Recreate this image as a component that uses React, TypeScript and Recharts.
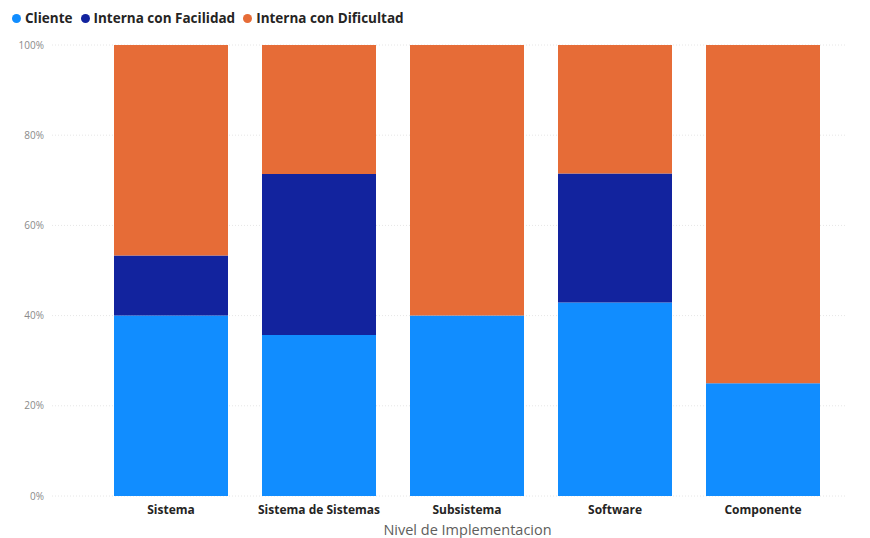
import React from "react";
import { BarChart, Bar, XAxis, YAxis, CartesianGrid } from "recharts";

const categories = ["Sistema", "Sistema de Sistemas", "Subsistema", "Software", "Componente"];
const cliente = [40, 35.7, 40, 42.9, 25];
const facilidad = [13.3, 35.7, 0, 28.6, 0];
const dificultad = [46.7, 28.6, 60, 28.5, 75];
const yTicks = [0, 20, 40, 60, 80, 100];

const series = [
  { key: "cliente", name: "Cliente", color: "#118DFF" },
  { key: "facilidad", name: "Interna con Facilidad", color: "#12239E" },
  { key: "dificultad", name: "Interna con Dificultad", color: "#E66C37" },
];

const data = categories.map((c, i) => ({
  name: c,
  cliente: cliente[i],
  facilidad: facilidad[i],
  dificultad: dificultad[i],
}));

const FONT = "'Open Sans', 'Noto Sans', sans-serif";

const LegendBox = () => (
  <div style={{ position: "absolute", left: 12, top: 9, display: "flex", alignItems: "center", fontFamily: FONT, fontSize: 13.5, fontWeight: 700, color: "#252423", whiteSpace: "nowrap" }}>
    {series.map((s) => (
      <div key={s.key} style={{ display: "flex", alignItems: "center", marginRight: 8 }}>
        <span style={{ display: "inline-block", width: 9, height: 9, borderRadius: "50%", background: s.color, marginRight: 4 }} />
        <span>{s.name}</span>
      </div>
    ))}
  </div>
);

export default function App() {
  return (
    <div style={{ position: "absolute", left: 0, top: 0, width: 870, height: 538, background: "#fff" }}>
      <BarChart
        width={870}
        height={538}
        data={data}
        margin={{ top: 45, right: 25, bottom: 0, left: 0 }}
        barSize={114}
      >
        <CartesianGrid vertical={false} stroke="#e6e6e6" strokeDasharray="1 2" />
        <YAxis
          type="number"
          domain={[0, 100]}
          ticks={yTicks}
          width={52}
          tickFormatter={(v) => `${v}%`}
          axisLine={false}
          tickLine={false}
          tickSize={0}
          tickMargin={8}
          tick={{ fill: "#8a8a8a", fontSize: 10, fontFamily: FONT }}
        />
        <XAxis
          dataKey="name"
          height={42}
          padding={{ left: 45, right: 8 }}
          axisLine={false}
          tickLine={false}
          tickSize={0}
          tickMargin={9}
          interval={0}
          tick={{ fill: "#252423", fontSize: 12, fontWeight: 700, fontFamily: FONT }}
          label={{ value: "Nivel de Implementacion", position: "insideBottom", offset: 3, dx: 19, fill: "#605e5c", fontSize: 14.5, fontFamily: FONT }}
        />
        {series.map((s) => (
          <Bar key={s.key} dataKey={s.key} name={s.name} stackId="a" fill={s.color} isAnimationActive={false} />
        ))}
      </BarChart>
      <LegendBox />
    </div>
  );
}
